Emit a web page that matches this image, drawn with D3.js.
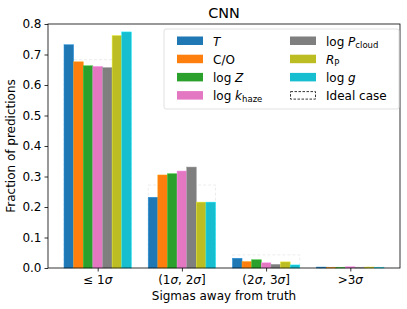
<!DOCTYPE html>
<html>
<head>
<meta charset="utf-8">
<script src="https://cdn.jsdelivr.net/npm/d3@7"></script>
<style>
  body { margin: 0; background: #fff; }
  svg { font-family: "DejaVu Sans", sans-serif; }
</style>
</head>
<body>
<div id="chart"></div>
<script>
const groups = ["le1", "1to2", "2to3", "gt3"];
const params = ["T", "CO", "Z", "khaze", "Pcloud", "Rp", "g"];
const colors = ["#1f77b4", "#ff7f0e", "#2ca02c", "#e377c2", "#7f7f7f", "#bcbd22", "#17becf"];
// fraction of predictions per parameter, per sigma bin
const values = {
  T:      [0.732, 0.232, 0.032, 0.003],
  CO:     [0.676, 0.305, 0.021, 0.001],
  Z:      [0.663, 0.309, 0.027, 0.001],
  khaze:  [0.661, 0.318, 0.017, 0.004],
  Pcloud: [0.657, 0.331, 0.012, 0.001],
  Rp:     [0.762, 0.216, 0.020, 0.003],
  g:      [0.774, 0.216, 0.010, 0.001]
};
const ideal = [0.683, 0.272, 0.043, 0.003];
const yTicks = [0, 0.1, 0.2, 0.3, 0.4, 0.5, 0.6, 0.7, 0.8];

const W = 407, H = 309;
const margin = { top: 24, right: 7, bottom: 41, left: 48 };
const width = W - margin.left - margin.right,
  height = H - margin.top - margin.bottom;

const svg = d3.select("#chart").append("svg")
  .attr("width", W).attr("height", H);
const g = svg.append("g").attr("transform", `translate(${margin.left},${margin.top})`);

// matplotlib-ish: bar centers at 0..3, group width 0.8, 5% margins
const nb = params.length, bw = 0.8 / nb;
const lo = -0.4, hi = 3.4, pad = (hi - lo) * 0.05;
const x = d3.scaleLinear().domain([lo - pad, hi + pad]).range([0, width]);
const y = d3.scaleLinear().domain([0, 0.8]).range([height, 0]);

// ideal case (very faint dashed outline, behind the bars)
g.selectAll(".ideal")
  .data(ideal)
  .join("rect")
  .attr("x", (d, i) => x(i - 0.4))
  .attr("width", x(0.8) - x(0))
  .attr("y", d => y(d))
  .attr("height", d => y(0) - y(d))
  .attr("fill", "none")
  .attr("stroke", "#ececec")
  .attr("stroke-width", 1)
  .attr("stroke-dasharray", "3,2");

// bars
params.forEach((p, j) => {
  g.selectAll(".bar-" + p)
    .data(values[p])
    .join("rect")
    .attr("x", (d, i) => x(i - 0.4 + j * bw))
    .attr("width", x(bw) - x(0))
    .attr("y", d => y(d))
    .attr("height", d => y(0) - y(d))
    .attr("fill", colors[j])
    .attr("stroke", d3.color(colors[j]).brighter(0.6))
    .attr("stroke-width", 0.5);
});

// axes
const yAxis = g.append("g").call(d3.axisLeft(y).tickValues(yTicks).tickFormat(d3.format(".1f")).tickSize(3.5).tickPadding(3));
const xAxis = g.append("g").attr("transform", `translate(0,${height})`)
  .call(d3.axisBottom(x).tickValues([0, 1, 2, 3]).tickFormat("").tickSize(3.5));
[yAxis, xAxis].forEach(a => {
  a.select(".domain").remove();
  a.selectAll("line").attr("stroke", "#000").attr("stroke-width", 0.8);
  a.selectAll("text").attr("font-size", "12px").attr("fill", "#000").attr("font-family", "DejaVu Sans");
});

g.append("rect")
  .attr("width", width).attr("height", height)
  .attr("fill", "none").attr("stroke", "#000").attr("stroke-width", 0.8);

// x tick labels with math sigma
const xLabels = [
  [["≤ 1", "n"], ["σ", "i"]],
  [["(1", "n"], ["σ", "i"], [", 2", "n"], ["σ", "i"], ["]", "n"]],
  [["(2", "n"], ["σ", "i"], [", 3", "n"], ["σ", "i"], ["]", "n"]],
  [[">3", "n"], ["σ", "i"]]
];
xLabels.forEach((parts, i) => {
  const t = g.append("text")
    .attr("x", x(i)).attr("y", height + 16)
    .attr("text-anchor", "middle").attr("font-size", "12px");
  parts.forEach(([s, st]) => {
    t.append("tspan").text(s).attr("font-style", st === "i" ? "italic" : null);
  });
});

// labels
g.append("text")
  .attr("x", width / 2).attr("y", height + 32)
  .attr("text-anchor", "middle").attr("font-size", "12px")
  .text("Sigmas away from truth");

g.append("text")
  .attr("transform", `translate(${-33},${height / 2}) rotate(-90)`)
  .attr("text-anchor", "middle").attr("font-size", "12px")
  .text("Fraction of predictions");

g.append("text")
  .attr("x", width / 2).attr("y", -6)
  .attr("text-anchor", "middle").attr("font-size", "14.4px")
  .text("CNN");

// legend
const legendItems = [
  { label: [["T", "i"]], c: colors[0] },
  { label: [["C/O", "n"]], c: colors[1] },
  { label: [["log ", "n"], ["Z", "i"]], c: colors[2] },
  { label: [["log ", "n"], ["k", "i"], ["haze", "sub"]], c: colors[3] },
  { label: [["log ", "n"], ["P", "i"], ["cloud", "sub"]], c: colors[4] },
  { label: [["R", "i"], ["P", "sub"]], c: colors[5] },
  { label: [["log ", "n"], ["g", "i"]], c: colors[6] },
  { label: [["Ideal case", "n"]], c: null }
];
const lg = svg.append("g").attr("transform", "translate(164,29)");
lg.append("rect")
  .attr("width", 235).attr("height", 80).attr("rx", 2)
  .attr("fill", "#fff").attr("fill-opacity", 0.8)
  .attr("stroke", "#d9d9d9").attr("stroke-width", 0.8);
legendItems.forEach((d, i) => {
  const col = Math.floor(i / 4), row = i % 4;
  const gx = 13 + col * 113, gy = 7.5 + row * 18.2;
  const item = lg.append("g").attr("transform", `translate(${gx},${gy})`);
  if (d.c) {
    item.append("rect").attr("width", 26).attr("height", 8.5).attr("fill", d.c);
  } else {
    item.append("rect").attr("x", 0.5).attr("y", 0.5).attr("width", 25).attr("height", 7.5)
      .attr("fill", "none").attr("stroke", "#000").attr("stroke-width", 0.8)
      .attr("stroke-dasharray", "2.5,1.5");
  }
  const t = item.append("text").attr("x", 36).attr("y", 9).attr("font-size", "12px");
  d.label.forEach(([s, st]) => {
    const ts = t.append("tspan").text(s);
    if (st === "i") ts.attr("font-style", "italic");
    if (st === "sub") ts.attr("font-size", "8.5px").attr("dy", 2);
  });
});
</script>
</body>
</html>
